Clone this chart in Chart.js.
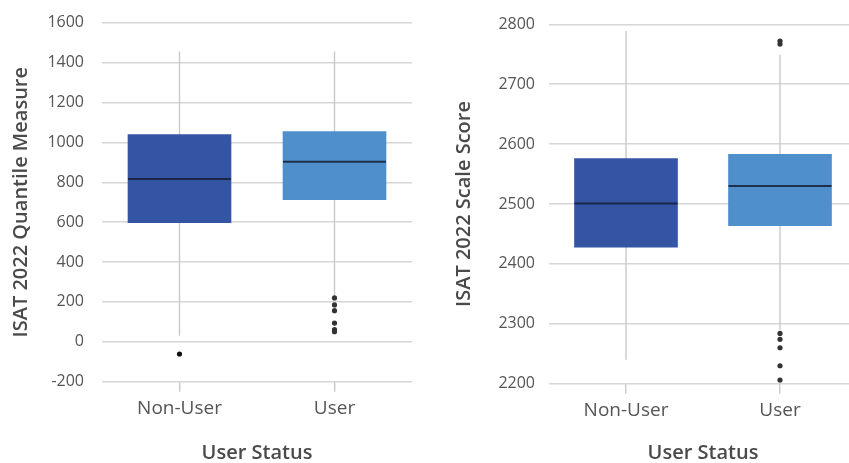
<!DOCTYPE html>
<html>
<head>
<meta charset="utf-8">
<script src="https://cdn.jsdelivr.net/npm/chart.js@4.4.1/dist/chart.umd.min.js"></script>
<style>
  html, body { margin: 0; padding: 0; background: #fff; overflow: hidden; }
  body { width: 849px; height: 463px; position: relative; }
  .panel { position: absolute; top: 0; height: 463px; }
  #left { left: 0; width: 425px; }
  #right { left: 425px; width: 436px; }
</style>
</head>
<body>
<div class="panel" id="left"><canvas id="quantile"></canvas></div>
<div class="panel" id="right"><canvas id="scale"></canvas></div>
<script>
const categories = ['Non-User', 'User'];
const boxColors = ['#3455a4', '#4f8fcb'];

// ISAT 2022 Quantile Measure
const quantileQ1 = [597, 713];
const quantileQ3 = [1039, 1054];
const quantileMedian = [816, 903];
const quantileLow = [31, 232];
const quantileHigh = [1456, 1456];
const quantileOutNonUser = [-61];
const quantileOutUser = [220, 185, 156, 94, 61, 51];
const quantileTicks = { min: -200, max: 1600, step: 200 };

// ISAT 2022 Scale Score
const scoreQ1 = [2428, 2464];
const scoreQ3 = [2576, 2583];
const scoreMedian = [2501, 2530];
const scoreLow = [2240, 2290];
const scoreHigh = [2789, 2749];
const scoreOutNonUser = [];
const scoreOutUser = [2772, 2767, 2284, 2274, 2260, 2230, 2206];
const scoreTicks = { min: 2200, max: 2800, step: 100 };

const FONT = "'Open Sans', 'DejaVu Sans', sans-serif";
const GRID = '#d6d6d6';
const TEXT = '#555555';

// draws the median line across each box, using the bar elements and y scale
const medianPlugin = {
  id: 'medianLines',
  afterDatasetsDraw(chart, args, opts) {
    const meta = chart.getDatasetMeta(0);
    const y = chart.scales.y;
    const ctx = chart.ctx;
    ctx.save();
    ctx.strokeStyle = 'rgba(22, 32, 56, 0.85)';
    ctx.lineWidth = 2;
    meta.data.forEach((bar, i) => {
      const py = y.getPixelForValue(opts.medians[i]);
      ctx.beginPath();
      ctx.moveTo(bar.x - bar.width / 2, py);
      ctx.lineTo(bar.x + bar.width / 2, py);
      ctx.stroke();
    });
    ctx.restore();
  },
};

function makeBoxChart(canvas, cfg) {
  const whiskers = categories.map((c, i) => ({
    type: 'line',
    data: [{ x: c, y: cfg.high[i] }, { x: c, y: cfg.low[i] }],
    borderColor: '#c9c9c9',
    borderWidth: 1.4,
    pointRadius: 0,
    order: 3,
  }));
  const outliers = [
    { cat: categories[0], vals: cfg.outNonUser, color: '#111111' },
    { cat: categories[1], vals: cfg.outUser, color: '#333333' },
  ].map((o) => ({
    type: 'line',
    data: o.vals.map((v) => ({ x: o.cat, y: v })),
    showLine: false,
    pointRadius: 2.6,
    pointBorderWidth: 0,
    pointBackgroundColor: o.color,
    order: 0,
  }));

  return new Chart(canvas, {
    type: 'bar',
    data: {
      labels: categories,
      datasets: [
        {
          data: cfg.q1.map((v, i) => [v, cfg.q3[i]]),
          backgroundColor: boxColors,
          borderWidth: 0,
          barThickness: 103,
          grouped: false,
          order: 1,
        },
        ...whiskers,
        ...outliers,
      ],
    },
    options: {
      responsive: true,
      maintainAspectRatio: false,
      animation: false,
      layout: { padding: cfg.padding },
      plugins: {
        legend: { display: false },
        tooltip: { enabled: false },
        medianLines: { medians: cfg.median },
      },
      scales: {
        x: {
          offset: true,
          grid: { drawOnChartArea: false, drawTicks: true, tickLength: 10, offset: false, color: '#c9c9c9', lineWidth: 1.4 },
          border: { display: false },
          ticks: { color: TEXT, font: { family: FONT, size: 19 }, padding: 5 },
          title: { display: true, text: 'User Status', color: '#4a4a4a', font: { family: FONT, size: 20, weight: '600', lineHeight: 1 }, padding: { top: cfg.xTitlePad, bottom: 0 } },
        },
        y: {
          min: cfg.ticks.min,
          max: cfg.ticks.max,
          afterFit(scale) { scale.width = cfg.yWidth; },
          grid: { color: GRID, lineWidth: 1.5, drawTicks: true, tickLength: cfg.tickGap, tickColor: 'rgba(0,0,0,0)' },
          border: { display: false },
          ticks: {
            stepSize: cfg.ticks.step,
            color: TEXT,
            font: { family: FONT, size: 16 },
            padding: 4,
            callback: (v) => String(v),
          },
          title: { display: true, text: cfg.title, color: '#4a4a4a', font: { family: FONT, size: 20, weight: '600', lineHeight: 1 }, padding: { top: cfg.titlePad, bottom: 0 } },
        },
      },
    },
    plugins: [medianPlugin],
  });
}

makeBoxChart(document.getElementById('quantile'), {
  q1: quantileQ1, q3: quantileQ3, median: quantileMedian,
  low: quantileLow, high: quantileHigh,
  outNonUser: quantileOutNonUser, outUser: quantileOutUser,
  ticks: quantileTicks, title: 'ISAT 2022 Quantile Measure',
  yWidth: 102, tickGap: 14, titlePad: 11, xTitlePad: 18.5,
  padding: { top: 22.7, right: 13, bottom: 0, left: 0 },
});

makeBoxChart(document.getElementById('scale'), {
  q1: scoreQ1, q3: scoreQ3, median: scoreMedian,
  low: scoreLow, high: scoreHigh,
  outNonUser: scoreOutNonUser, outUser: scoreOutUser,
  ticks: scoreTicks, title: 'ISAT 2022 Scale Score',
  yWidth: 124, tickGap: 10, titlePad: 29, xTitlePad: 16.5,
  padding: { top: 24.3, right: 0, bottom: 0, left: 0 },
});
</script>
</body>
</html>
